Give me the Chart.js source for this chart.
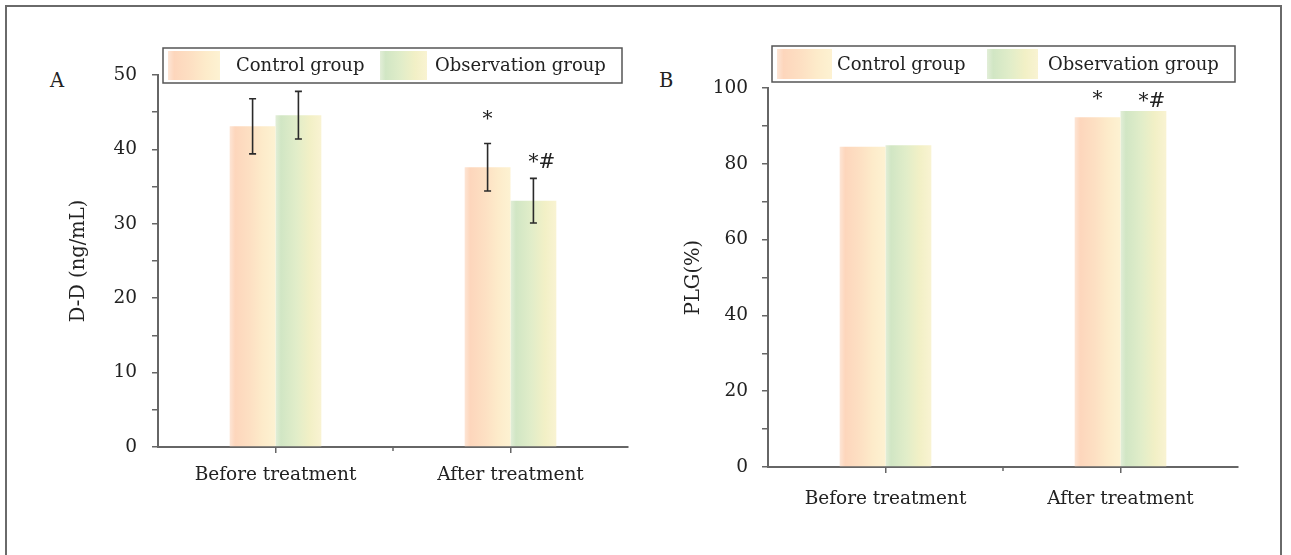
<!DOCTYPE html>
<html>
<head>
<meta charset="utf-8">
<script src="https://cdn.jsdelivr.net/npm/chart.js@4/dist/chart.umd.min.js"></script>
<style>
  body { margin: 0; background: #fff; width: 1291px; height: 555px; overflow: hidden; position: relative; }
  #frame { position: absolute; left: 5px; top: 5px; width: 1277px; height: 600px; border: 2px solid #6a6a6a; box-sizing: border-box; }
  .panel { position: absolute; top: 0; }
  .tag { position: absolute; font-family: "DejaVu Serif", serif; font-size: 19.5px; line-height: 1; color: #222; }
</style>
</head>
<body>
<div id="frame"></div>
<div class="tag" style="left:50px;top:71px">A</div>
<div class="tag" style="left:659px;top:71px">B</div>
<canvas id="chartA" class="panel" style="left:0" width="640" height="555"></canvas>
<canvas id="chartB" class="panel" style="left:645px" width="646" height="555"></canvas>
<script>
// dados
const categorias = ['Before treatment', 'After treatment'];
const series = ['Control group', 'Observation group'];

// painel A - D-D (ng/mL)
const ddControle = [43.1, 37.6];
const ddControleDP = [3.7, 3.2];
const ddObservacao = [44.6, 33.1];
const ddObservacaoDP = [3.2, 3.0];
const ddMarcas = [['', '*'], ['', '*#']];

// painel B - PLG(%)
const plgControle = [84.5, 92.3];
const plgObservacao = [84.9, 93.9];
const plgMarcas = [['', '*'], ['', '*#']];

const FONTE = '"DejaVu Serif", serif';
const COR_TEXTO = '#222';
const COR_EIXO = '#666';
const CAT_PCT = 0.39;

// gradientes das barras (esquerda -> direita)
const paradasControle = [[0, '#fde5d5'], [0.12, '#fdd6bc'], [0.45, '#fde0c3'], [0.72, '#fdebca'], [1, '#fdf2d2']];
const paradasObservacao = [[0, '#e2eed8'], [0.12, '#d1e6c4'], [0.45, '#e1edc9'], [0.75, '#f2f0c6'], [1, '#f9f3d2']];

function gradiente(ctx, x0, x1, paradas) {
  const g = ctx.createLinearGradient(x0, 0, x1, 0);
  paradas.forEach(([p, c]) => g.addColorStop(p, c));
  return g;
}

function corBarra(paradas, lado) {
  return c => {
    const ch = c.chart, xs = ch.scales.x;
    if (!ch.chartArea || !xs || c.dataIndex === undefined) return paradas[1][1];
    const centro = xs.getPixelForValue(c.dataIndex);
    const w = xs.width / ch.data.labels.length * CAT_PCT / 2;
    const x0 = lado === 0 ? centro - w : centro;
    return gradiente(ch.ctx, x0, x0 + w, paradas);
  };
}

// plugin: barras de erro, marcas (* / *#), tick menor do eixo x e legenda com caixa
const extras = {
  id: 'extras',
  afterDatasetsDraw(chart, args, opts) {
    const ctx = chart.ctx, y = chart.scales.y, x = chart.scales.x;
    ctx.save();
    ctx.strokeStyle = '#2a2a2a';
    ctx.lineWidth = 1.6;
    chart.data.datasets.forEach((ds, di) => {
      const meta = chart.getDatasetMeta(di);
      const dp = opts.dp ? opts.dp[di] : null;
      meta.data.forEach((bar, i) => {
        let topo = bar.y;
        if (dp) {
          const t = y.getPixelForValue(ds.data[i] + dp[i]);
          const b = y.getPixelForValue(ds.data[i] - dp[i]);
          ctx.beginPath();
          ctx.moveTo(bar.x, t); ctx.lineTo(bar.x, b);
          ctx.moveTo(bar.x - 3.5, t); ctx.lineTo(bar.x + 3.5, t);
          ctx.moveTo(bar.x - 3.5, b); ctx.lineTo(bar.x + 3.5, b);
          ctx.stroke();
          topo = t;
        }
        const m = opts.marcas ? opts.marcas[di][i] : '';
        if (m) {
          ctx.font = '20px ' + FONTE;
          ctx.fillStyle = COR_TEXTO;
          ctx.textAlign = 'left';
          ctx.textBaseline = 'alphabetic';
          const meio = ctx.measureText('*').width / 2;
          ctx.fillText(m, bar.x - meio, topo - opts.folga[di]);
        }
      });
    });
    // tick menor entre as categorias
    const meio = (x.getPixelForValue(0) + x.getPixelForValue(1)) / 2;
    ctx.strokeStyle = COR_EIXO;
    ctx.lineWidth = 1.5;
    ctx.beginPath();
    ctx.moveTo(meio, chart.chartArea.bottom);
    ctx.lineTo(meio, chart.chartArea.bottom + 4);
    ctx.stroke();
    ctx.restore();
  },
  afterDraw(chart, args, opts) {
    const L = opts.legenda;
    if (!L) return;
    const ctx = chart.ctx;
    ctx.save();
    ctx.fillStyle = '#fff';
    ctx.fillRect(L.x, L.y, L.w, L.h);
    ctx.strokeStyle = '#555';
    ctx.lineWidth = 1.5;
    ctx.strokeRect(L.x, L.y, L.w, L.h);
    const paradas = [paradasControle, paradasObservacao];
    L.itens.forEach((it, k) => {
      const sx = L.x + it.sw;
      ctx.fillStyle = gradiente(ctx, sx, sx + it.swW, paradas[k]);
      ctx.fillRect(sx, L.y + 3, it.swW, L.h - 6);
      ctx.fillStyle = COR_TEXTO;
      ctx.font = '18px ' + FONTE;
      ctx.textAlign = 'left';
      ctx.textBaseline = 'middle';
      ctx.fillText(chart.data.datasets[k].label, L.x + it.tx, L.y + L.h / 2 + 1);
    });
    ctx.restore();
  }
};

function criarGrafico(id, cfg) {
  const ctx = document.getElementById(id).getContext('2d');
  return new Chart(ctx, {
    type: 'bar',
    data: {
      labels: categorias,
      datasets: [{
        label: series[0],
        data: cfg.controle,
        backgroundColor: corBarra(paradasControle, 0),
        borderWidth: 0
      }, {
        label: series[1],
        data: cfg.observacao,
        backgroundColor: corBarra(paradasObservacao, 1),
        borderWidth: 0
      }]
    },
    options: {
      responsive: false,
      animation: false,
      datasets: { bar: { categoryPercentage: CAT_PCT, barPercentage: 1 } },
      layout: { padding: { left: 0, right: cfg.direita, top: cfg.topo, bottom: 0 } },
      scales: {
        x: {
          ticks: { font: { family: FONTE, size: 18.5 }, color: COR_TEXTO, padding: cfg.padX },
          grid: { drawOnChartArea: false, offset: false, tickLength: 6, color: COR_EIXO, lineWidth: 1.5 },
          border: { color: COR_EIXO, width: 2 },
          afterFit: s => { s.height = cfg.alturaX; }
        },
        y: {
          min: 0,
          max: cfg.max,
          ticks: {
            stepSize: cfg.passo,
            autoSkip: false,
            callback: v => v % (cfg.passo * 2) === 0 ? v : '',
            font: { family: FONTE, size: 18.5 },
            color: COR_TEXTO,
            padding: cfg.padY
          },
          grid: { drawOnChartArea: false, tickLength: 6, color: COR_EIXO, lineWidth: 1.5 },
          border: { color: COR_EIXO, width: 2 },
          title: { display: true, text: cfg.titulo, font: { family: FONTE, size: 19.5 }, color: COR_TEXTO, padding: { top: cfg.padTitulo } },
          afterFit: s => { s.width = cfg.larguraY; }
        }
      },
      plugins: {
        legend: { display: false },
        tooltip: { enabled: false },
        extras: { dp: cfg.dp, marcas: cfg.marcas, folga: cfg.folga, legenda: cfg.legenda }
      }
    },
    plugins: [extras]
  });
}

criarGrafico('chartA', {
  controle: ddControle,
  observacao: ddObservacao,
  dp: [ddControleDP, ddObservacaoDP],
  marcas: ddMarcas,
  folga: [18, 10],
  max: 50, passo: 5,
  titulo: 'D-D (ng/mL)',
  topo: 75, direita: 12, alturaX: 108, larguraY: 158,
  padX: 11, padY: 15, padTitulo: 67,
  legenda: { x: 163, y: 48, w: 459, h: 35, itens: [{ sw: 5, swW: 52, tx: 73 }, { sw: 217, swW: 47, tx: 272 }] }
});

criarGrafico('chartB', {
  controle: plgControle,
  observacao: plgObservacao,
  dp: null,
  marcas: plgMarcas,
  folga: [12, 4],
  max: 100, passo: 10,
  titulo: 'PLG(%)',
  topo: 88, direita: 53, alturaX: 88, larguraY: 123,
  padX: 15, padY: 14, padTitulo: 37,
  legenda: { x: 127, y: 46, w: 463, h: 36, itens: [{ sw: 5, swW: 55, tx: 65 }, { sw: 215, swW: 51, tx: 276 }] }
});
</script>
</body>
</html>
